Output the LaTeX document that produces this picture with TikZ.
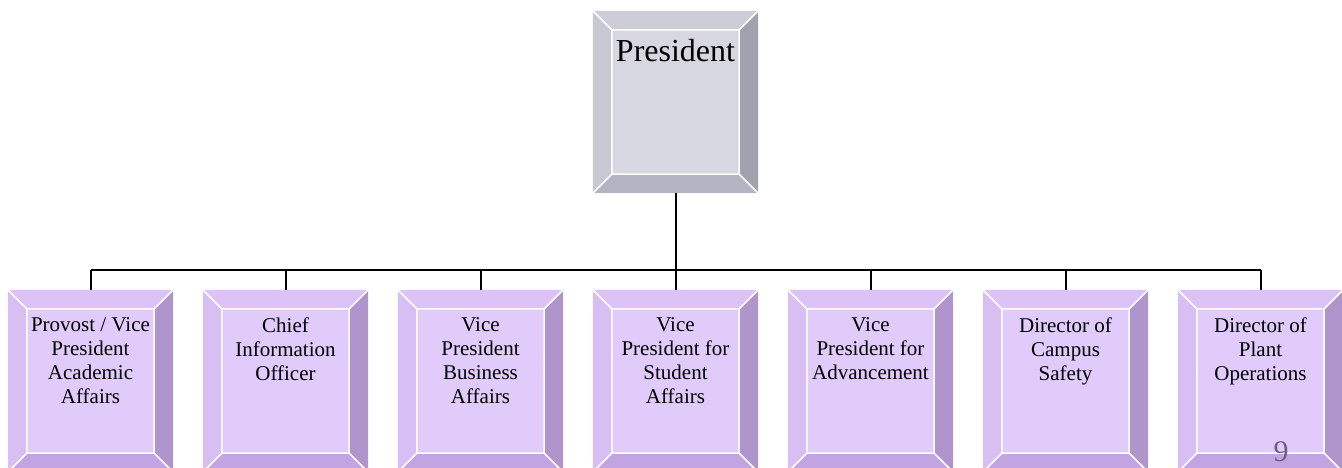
\documentclass[tikz,border=0pt]{standalone}
\usepackage{fontspec}
\setmainfont{Liberation Serif}
\usetikzlibrary{calc}

\definecolor{gface}{HTML}{D7D7E1}
\definecolor{gtop}{HTML}{CDCDD9}
\definecolor{gleft}{HTML}{C8C8D3}
\definecolor{gright}{HTML}{A2A2AE}
\definecolor{gbot}{HTML}{B4B4C2}
\definecolor{vface}{HTML}{E1CBFB}
\definecolor{vtop}{HTML}{DCC2F9}
\definecolor{vleft}{HTML}{D8BFF3}
\definecolor{vright}{HTML}{AF95CB}
\definecolor{vbot}{HTML}{C2A4E2}
\definecolor{pgnum}{HTML}{6E5F80}

% bevel round a box node: #1 node, #2 top, #3 left, #4 right, #5 bottom
\newcommand\bevel[5]{%
  \path (#1.north west) coordinate (o1) (#1.north east) coordinate (o2)
        (#1.south east) coordinate (o3) (#1.south west) coordinate (o4)
        ($(#1.north west)+(19,19)$) coordinate (i1)
        ($(#1.north east)+(-19,19)$) coordinate (i2)
        ($(#1.south east)+(-19,-19)$) coordinate (i3)
        ($(#1.south west)+(19,-19)$) coordinate (i4);
  \fill[#2] (o1) -- (o2) -- (i2) -- (i1) -- cycle;
  \fill[#3] (o1) -- (i1) -- (i4) -- (o4) -- cycle;
  \fill[#4] (o2) -- (o3) -- (i3) -- (i2) -- cycle;
  \fill[#5] (o4) -- (i4) -- (i3) -- (o3) -- cycle;
  \draw[white, line width=1.5pt] (i1) rectangle (i3)
        (o1) -- (i1) (o2) -- (i2) (o3) -- (i3) (o4) -- (i4);
}

\begin{document}
\begin{tikzpicture}[
    x=1pt, y=-1pt,
    box/.style={
        rectangle,
        inner sep=0,
        minimum width=165pt,
        minimum height=182pt
    },
    lbl/.style={
        anchor=north,
        align=center,
        inner sep=0,
        font=\fontsize{21}{24}\selectfont
    },
    link/.style={line width=2pt}
]
\useasboundingbox (0,0) rectangle (1342,468);
\clip (0,0) rectangle (1342,468);

% top box
\node[box, fill=gface] (pres) at (675.5,102) {};
\bevel{pres}{gtop}{gleft}{gright}{gbot}
\node[lbl, font=\fontsize{32}{36}\selectfont] (pres-t) at ($(pres.north)+(0,28)$) {President};

% second row
\foreach \n/\t [count=\i] in {
    acad/{Provost / Vice\\President\\Academic\\Affairs},
    cio/{Chief\\Information\\Officer},
    bus/{Vice\\President\\Business\\Affairs},
    stud/{Vice\\President for\\Student\\Affairs},
    adv/{Vice\\President for\\Advancement},
    safe/{Director of\\Campus\\Safety},
    plant/{Director of\\Plant\\Operations}}
{
    \node[box, fill=vface] (\n) at ({90.5+195*(\i-1)},381) {};
    \bevel{\n}{vtop}{vleft}{vright}{vbot}
    \node[lbl] (\n-t) at ($(\n.north)+(0,28)$) {\t};
}

% connectors
\coordinate (rail) at (675.5,270);
\draw[link] (pres.south) -- (pres.south |- rail);
\draw[link] (rail -| acad.north) -- (rail -| plant.north);
\foreach \n in {acad,cio,bus,stud,adv,safe,plant}
    \draw[link] (\n.north) -- (\n.north |- rail);

% page number
\node[anchor=base, text=pgnum, inner sep=0, font=\fontsize{30}{30}\selectfont] (pg) at (1281,461) {9};

\end{tikzpicture}
\end{document}
